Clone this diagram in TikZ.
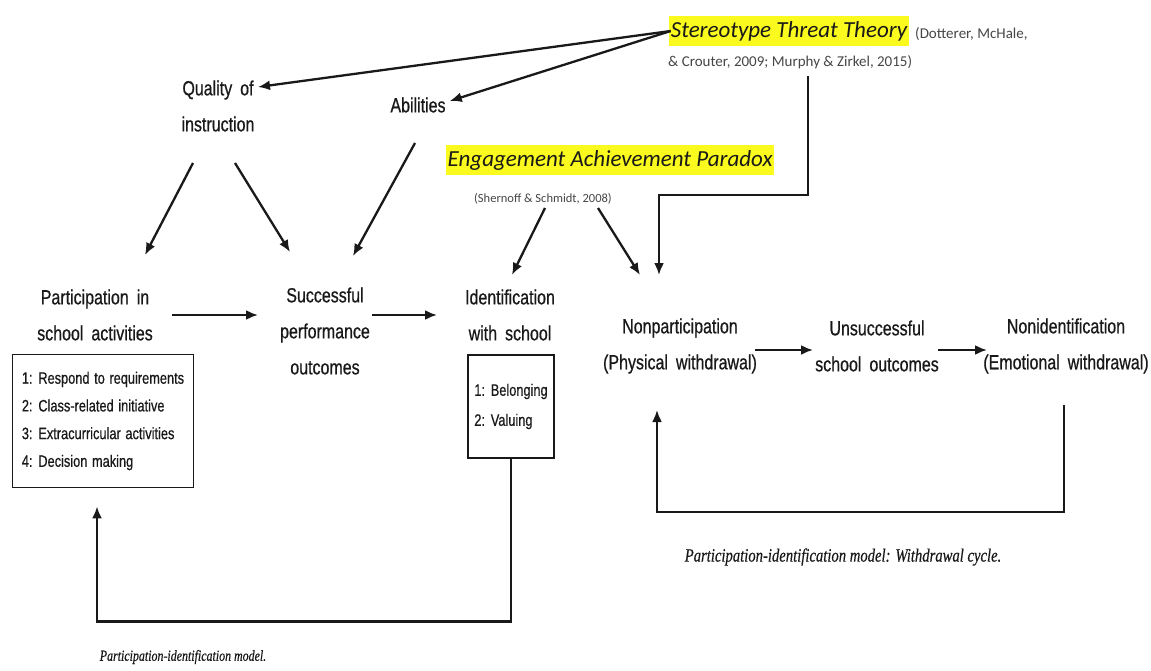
\documentclass[tikz,border=0pt]{standalone}
\usepackage{fontspec}
\setmainfont{Liberation Sans}
\newfontfamily\lblfont{Liberation Sans}[FakeStretch=0.78,WordSpace=1.8,FakeBold=0.6]
\newfontfamily\boxfont{Liberation Sans}[FakeStretch=0.775,WordSpace=1.3,FakeBold=0.55]
\newfontfamily\calfont{Carlito}
\newfontfamily\captfont{Liberation Serif}[FakeStretch=0.78,FakeBold=0.4]
\usetikzlibrary{arrows.meta,calc}
\definecolor{hlyellow}{RGB}{250,250,30}
\definecolor{ink}{RGB}{25,25,25}
\definecolor{citegray}{RGB}{70,70,70}
\tikzset{
  lab/.style={font=\lblfont\fontsize{20.5}{36}\selectfont, align=center, inner sep=0pt, text=ink},
  boxtxt/.style={draw=ink, line width=1.8pt, font=\boxfont\fontsize{16.5}{27.7}\selectfont, align=left, inner xsep=6pt, inner ysep=0pt, text=ink},
  hl/.style={fill=hlyellow, inner xsep=2pt, inner ysep=5pt, text=ink, font=\calfont\itshape\fontsize{23}{26}\selectfont},
  cite/.style={font=\calfont\fontsize{15}{18}\selectfont, text=citegray, inner sep=0pt},
  capt/.style={font=\captfont\itshape\fontsize{18.8}{22}\selectfont, text=ink, inner sep=0pt},
  arr/.style={draw=ink, line width=2.3pt, -{Latex[length=12pt,width=10pt]}}
}
\begin{document}
\begin{tikzpicture}[x=1pt,y=-1pt]
\useasboundingbox (0,0) rectangle (1151,671);
\fill[white] (0,0) rectangle (1151,671);

% top theories
\node[hl] (stt) at (789,31) {Stereotype Threat Theory};
\node[cite, anchor=west] (stc1) at (915,34) {(Dotterer, McHale,};
\node[cite, anchor=west] (stc2) at (668,62) {\& Crouter, 2009; Murphy \& Zirkel, 2015)};
\node[hl] (eap) at (610,160) {Engagement Achievement Paradox};
\node[cite, font=\calfont\fontsize{12.5}{15}\selectfont] (shc) at (543,199) {(Shernoff \& Schmidt, 2008)};

% antecedents
\node[lab] (qual) at (218,106) {Quality of\\instruction};
\node[lab] (abil) at (418,105) {Abilities};

% participation-identification model
\node[lab] (part) at (95,315) {Participation in\\school activities};
\node[lab] (succ) at (325,331) {Successful\\performance\\outcomes};
\node[lab] (iden) at (510,315) {Identification\\with school};
\node[boxtxt, minimum width=181pt, minimum height=133pt] (box1) at (103,421)
  {1: Respond to requirements\\2: Class-related initiative\\3: Extracurricular activities\\4: Decision making};
\node[boxtxt, minimum width=84pt, minimum height=103pt, font=\boxfont\fontsize{16.5}{30}\selectfont] (box2) at (511,406.5)
  {1: Belonging\\2: Valuing};

% withdrawal cycle
\node[lab] (nonp) at (680,346) {Nonparticipation\\(Physical withdrawal)};
\node[lab] (unsu) at (877,346) {Unsuccessful\\school outcomes};
\node[lab] (noni) at (1066,346) {Nonidentification\\(Emotional withdrawal)};

% captions
\node[capt, font=\captfont\itshape\fontsize{15.3}{18}\selectfont] (c1) at (183,657) {Participation-identification model.};
\node[capt] (c2) at (843,557) {Participation-identification model: Withdrawal cycle.};

% arrows from theories
\draw[arr] ($(stt.west)+(2,0)$) -- ($(qual.center)+(40,-19)$);
\draw[arr] ($(stt.west)+(2,0)$) -- ($(abil.east)+(4,-4)$);
\draw[arr] ($(qual.center)+(-25,57)$) -- ($(part.center)+(50,-60)$);
\draw[arr] ($(qual.center)+(17,57)$) -- ($(succ.center)+(-35,-79)$);
\draw[arr] ($(abil.center)+(-3,38)$) -- ($(succ.center)+(28,-75)$);
\draw[arr] ($(shc.center)+(2,9)$) -- ($(iden.center)+(2,-40)$);
\draw[arr] ($(shc.center)+(55,9)$) -- ($(nonp.center)+(-40,-71)$);
\draw[arr] ($(stt.south)+(19,30)$) |- ($(nonp.center)+(-21,-151)$) -- ($(nonp.center)+(-21,-71)$);

% horizontal arrows
\draw[arr] ($(part.center)+(77,0)$) -- ($(succ.center)+(-67,-16)$);
\draw[arr] ($(succ.center)+(47,-16)$) -- ($(iden.center)+(-73,0)$);
\draw[arr] ($(nonp.center)+(75,4)$) -- ($(unsu.center)+(-64,4)$);
\draw[arr] ($(unsu.center)+(61,4)$) -- ($(noni.center)+(-79,4)$);

% feedback loops
\draw[arr] ($(noni.center)+(-2,59)$) |- ($(nonp.center)+(75,166)$) -| ($(nonp.center)+(-23,64)$);
\draw[arr] (box2.south) |- ($(box1.south)+(-6,133)$) -- ($(box1.south)+(-6,18)$);
\end{tikzpicture}
\end{document}
